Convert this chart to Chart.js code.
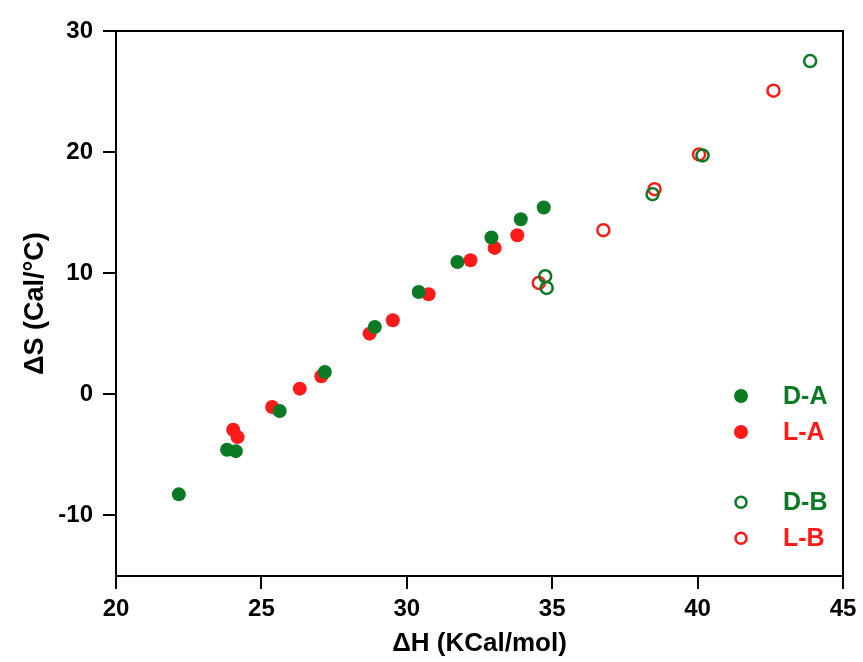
<!DOCTYPE html>
<html>
<head>
<meta charset="utf-8">
<script src="https://cdn.jsdelivr.net/npm/chart.js@4.4.1/dist/chart.umd.min.js"></script>
<style>
  html, body { margin: 0; padding: 0; background: #fff; }
  #wrap { width: 863px; height: 662px; }
</style>
</head>
<body>
<div id="wrap"><canvas id="chart" width="863" height="662"></canvas></div>
<script>
// values: dH (KCal/mol), dS (Cal/°C)
const daX = [22.16, 23.82, 24.12, 25.63, 27.18, 28.90, 30.41, 31.74, 32.91, 33.92, 34.71];
const daY = [-8.26, -4.57, -4.69, -1.38, 1.84, 5.56, 8.45, 10.93, 12.95, 14.46, 15.43];

const laX = [24.03, 24.18, 25.37, 26.32, 27.06, 28.72, 29.52, 30.75, 32.19, 33.02, 33.80];
const laY = [-2.92, -3.53, -1.05, 0.47, 1.49, 5.01, 6.12, 8.26, 11.07, 12.09, 13.14];

const dbX = [34.76, 34.81, 38.45, 40.17, 43.87];
const dbY = [9.75, 8.79, 16.53, 19.73, 27.52];

const lbX = [34.54, 36.76, 38.52, 40.05, 42.61];
const lbY = [9.20, 13.55, 16.94, 19.81, 25.07];

const xTicks = [20, 25, 30, 35, 40, 45];
const yTicks = [-10, 0, 10, 20, 30];

const GREEN = '#0a7a24';
const RED = '#ff1a1a';
const FONT = '"Liberation Sans", Arial, sans-serif';

function pts(xs, ys) {
    return xs.map((x, i) => ({ x: x, y: ys[i] }));
}

// legend drawn by hand: two groups with a gap between them
const legendItems = [
    { label: 'D-A', color: GREEN, filled: true, row: 0 },
    { label: 'L-A', color: RED, filled: true, row: 1 },
    { label: 'D-B', color: GREEN, filled: false, row: 2.95 },
    { label: 'L-B', color: RED, filled: false, row: 3.95 }
];

const boxAndLegend = {
    id: 'boxAndLegend',
    afterDraw(chart) {
        const { ctx, chartArea } = chart;
        ctx.save();
        // frame on top and right
        ctx.strokeStyle = '#000';
        ctx.lineWidth = 2;
        ctx.beginPath();
        ctx.moveTo(chartArea.left, chartArea.top);
        ctx.lineTo(chartArea.right, chartArea.top);
        ctx.lineTo(chartArea.right, chartArea.bottom);
        ctx.stroke();

        const mx = chartArea.left + 625;
        const tx = chartArea.left + 667;
        const y0 = chartArea.top + 365;
        ctx.font = 'bold 25px ' + FONT;
        ctx.textBaseline = 'middle';
        legendItems.forEach(it => {
            const y = y0 + it.row * 36;
            ctx.beginPath();
            if (it.filled) {
                ctx.fillStyle = it.color;
                ctx.arc(mx, y, 7, 0, Math.PI * 2);
                ctx.fill();
            } else {
                ctx.strokeStyle = it.color;
                ctx.lineWidth = 2.5;
                ctx.arc(mx, y, 5.5, 0, Math.PI * 2);
                ctx.stroke();
            }
            ctx.fillStyle = it.color;
            ctx.fillText(it.label, tx, y + 1);
        });
        ctx.restore();
    }
};

new Chart(document.getElementById('chart'), {
    type: 'scatter',
    data: {
        datasets: [
            { label: 'D-A', data: pts(daX, daY), backgroundColor: GREEN, borderColor: GREEN, pointRadius: 7, borderWidth: 0 },
            { label: 'L-A', data: pts(laX, laY), backgroundColor: RED, borderColor: RED, pointRadius: 7, borderWidth: 0 },
            { label: 'D-B', data: pts(dbX, dbY), backgroundColor: 'rgba(0,0,0,0)', borderColor: GREEN, pointRadius: 6, borderWidth: 2.5 },
            { label: 'L-B', data: pts(lbX, lbY), backgroundColor: 'rgba(0,0,0,0)', borderColor: RED, pointRadius: 6, borderWidth: 2.5 }
        ]
    },
    options: {
        responsive: false,
        animation: false,
        layout: { padding: { top: 31, right: 20, left: 0, bottom: 0 } },
        plugins: {
            legend: { display: false },
            tooltip: { enabled: false }
        },
        scales: {
            x: {
                type: 'linear',
                min: 20,
                max: 45,
                afterBuildTicks: s => { s.ticks = xTicks.map(v => ({ value: v })); },
                afterFit: s => { s.height = 662 - 576; },
                border: { color: '#000', width: 2 },
                grid: { display: true, drawOnChartArea: false, drawTicks: true, tickLength: 13, color: '#000', lineWidth: 2 },
                ticks: { color: '#000', font: { family: FONT, size: 24, weight: 'bold' }, padding: 6, maxRotation: 0 },
                title: { display: true, text: 'ΔH (KCal/mol)', color: '#000', font: { family: FONT, size: 26, weight: 'bold' }, padding: { top: 0, bottom: 3 } }
            },
            y: {
                type: 'linear',
                min: -15,
                max: 30,
                afterBuildTicks: s => { s.ticks = yTicks.map(v => ({ value: v })); },
                afterFit: s => { s.width = 116; },
                border: { color: '#000', width: 2 },
                grid: { display: true, drawOnChartArea: false, drawTicks: true, tickLength: 13, color: '#000', lineWidth: 2 },
                ticks: { color: '#000', font: { family: FONT, size: 24, weight: 'bold' }, padding: 10 },
                title: { display: true, text: 'ΔS (Cal/°C)', color: '#000', font: { family: FONT, size: 27, weight: 'bold' }, padding: { top: 19, bottom: 0 } }
            }
        }
    },
    plugins: [boxAndLegend]
});
</script>
</body>
</html>
